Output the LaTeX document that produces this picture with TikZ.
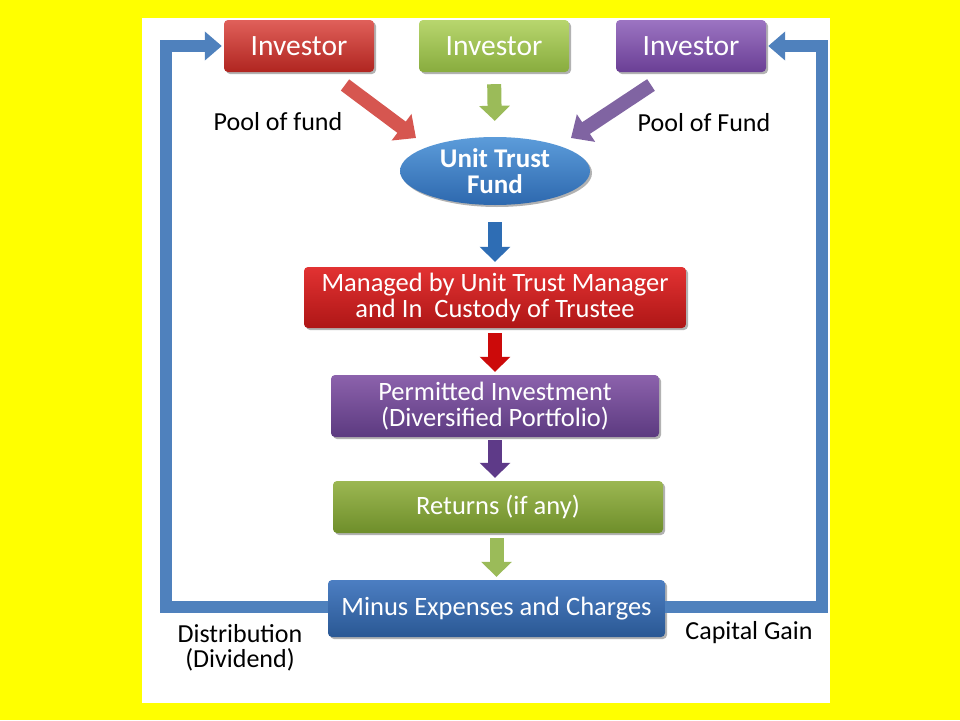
\documentclass[tikz,border=0pt]{standalone}
\usepackage{fontspec}
\setmainfont{Carlito}
\usetikzlibrary{arrows.meta,shapes.geometric,shadows}
\definecolor{bgyellow}{HTML}{FFFF00}
\definecolor{invRt}{HTML}{E0605A}\definecolor{invRb}{HTML}{B02520}
\definecolor{invGt}{HTML}{B8D66E}\definecolor{invGb}{HTML}{88AC3E}
\definecolor{invPt}{HTML}{9C74C2}\definecolor{invPb}{HTML}{6A3F95}
\definecolor{utfT}{HTML}{5C9CDA}\definecolor{utfB}{HTML}{2D68AE}
\definecolor{mgT}{HTML}{E23232}\definecolor{mgB}{HTML}{AE1616}
\definecolor{pmT}{HTML}{8C62AC}\definecolor{pmB}{HTML}{5C3A80}
\definecolor{rtT}{HTML}{9CB752}\definecolor{rtB}{HTML}{6E8E2A}
\definecolor{mnT}{HTML}{4C7EC2}\definecolor{mnB}{HTML}{2A5894}
\definecolor{arRed}{HTML}{D65650}
\definecolor{arGreen}{HTML}{9BBB59}
\definecolor{arPurple}{HTML}{8064A2}
\definecolor{arBlue}{HTML}{2E6DB4}
\definecolor{arDkRed}{HTML}{CC0A0A}
\definecolor{arDkPurple}{HTML}{5E3A88}
\definecolor{loopBlue}{HTML}{4F81BD}
\begin{document}
\begin{tikzpicture}[x=1pt,y=-1pt,
  box/.style={rectangle, rounded corners=4pt, draw=none, text=white, align=center, inner sep=0pt,
    font=\fontsize{26.5}{26}\selectfont,
    drop shadow={opacity=0.3, shadow xshift=2pt, shadow yshift=-2pt, fill=black}},
  lbl/.style={align=center, inner sep=0pt, text=black, font=\fontsize{26}{25}\selectfont},
  bigarrow/.style={line width=14pt, -{Triangle[length=15pt,width=30pt]}},
  diagarrow/.style={line width=14pt, -{Triangle[length=18pt,width=32pt]}},
  loopline/.style={line width=12pt, draw=loopBlue, line join=miter, -{Triangle[length=17pt,width=28pt]}}
]
\useasboundingbox (0,0) rectangle (960,720);
\fill[bgyellow] (0,0) rectangle (960,720);
\fill[white] (142,18) rectangle (830,703);

% investors
\node[box, minimum width=150pt, minimum height=52pt, top color=invRt, bottom color=invRb,
  font=\fontsize{29.5}{28}\selectfont] (inv1) at (299,46) {Investor};
\node[box, minimum width=150pt, minimum height=52pt, top color=invGt, bottom color=invGb,
  font=\fontsize{29.5}{28}\selectfont] (inv2) at (494,46) {Investor};
\node[box, minimum width=150pt, minimum height=52pt, top color=invPt, bottom color=invPb,
  font=\fontsize{29.5}{28}\selectfont] (inv3) at (691,46) {Investor};

% unit trust fund
\node[ellipse, draw=none, minimum width=190pt, minimum height=68pt, inner sep=0pt, top color=utfT, bottom color=utfB,
  text=white, align=center, font=\bfseries\fontsize{27}{26}\selectfont,
  drop shadow={opacity=0.3, shadow xshift=2pt, shadow yshift=-2pt, fill=black}] (utf) at (495,171) {Unit Trust\\Fund};

% process boxes
\node[box, minimum width=382pt, minimum height=61pt, top color=mgT, bottom color=mgB] (mg) at (495,297.5)
  {Managed by Unit Trust Manager\\and In\ \ Custody of Trustee};
\node[box, minimum width=328pt, minimum height=62pt, top color=pmT, bottom color=pmB] (pm) at (495,406)
  {Permitted Investment\\(Diversified Portfolio)};
\node[box, minimum width=330pt, minimum height=52pt, top color=rtT, bottom color=rtB] (rt) at (498,507)
  {Returns (if any)};
\node[box, minimum width=337pt, minimum height=57pt, top color=mnT, bottom color=mnB] (mn) at (496.5,608.5)
  {Minus Expenses and Charges};

% labels
\node[lbl] (l1) at (278,122) {Pool of fund};
\node[lbl] (l2) at (704,123) {Pool of Fund};
\node[lbl] (l3) at (240,648) {Distribution\\(Dividend)};
\node[lbl] (l4) at (749,633) {Capital Gain};

% diagonal and top arrows
\coordinate (r1) at (345,85);
\coordinate (r2) at (416,138);
\coordinate (p1) at (651,85);
\coordinate (p2) at (571,138);
\draw[diagarrow, arRed] (r1) -- (r2);
\draw[diagarrow, arPurple] (p1) -- (p2);
\draw[bigarrow, arGreen, shorten <=12pt, shorten >=16pt] (inv2.south) -- (utf.north);

% vertical arrows
\draw[bigarrow, arBlue, shorten <=17pt, shorten >=5pt] (utf.south) -- (mg.north);
\draw[bigarrow, arDkRed, shorten <=5pt, shorten >=3pt] (mg.south) -- (pm.north);
\draw[bigarrow, arDkPurple, shorten <=3pt, shorten >=3pt] (pm.south) -- (pm.south |- rt.north);
\draw[bigarrow, arGreen, shorten <=5pt, shorten >=3pt] (rt.south -| mn.north) -- (mn.north);

% feedback loops
\coordinate (lb) at (166,607);
\coordinate (lt) at (166,46);
\coordinate (rb) at (822,607);
\coordinate (rtp) at (822,46);
\draw[loopline, shorten >=2pt] (mn.west |- lb) -- (lb) -- (lt) -- (inv1.west);
\draw[loopline, shorten >=2pt] (mn.east |- rb) -- (rb) -- (rtp) -- (inv3.east);
\end{tikzpicture}
\end{document}
